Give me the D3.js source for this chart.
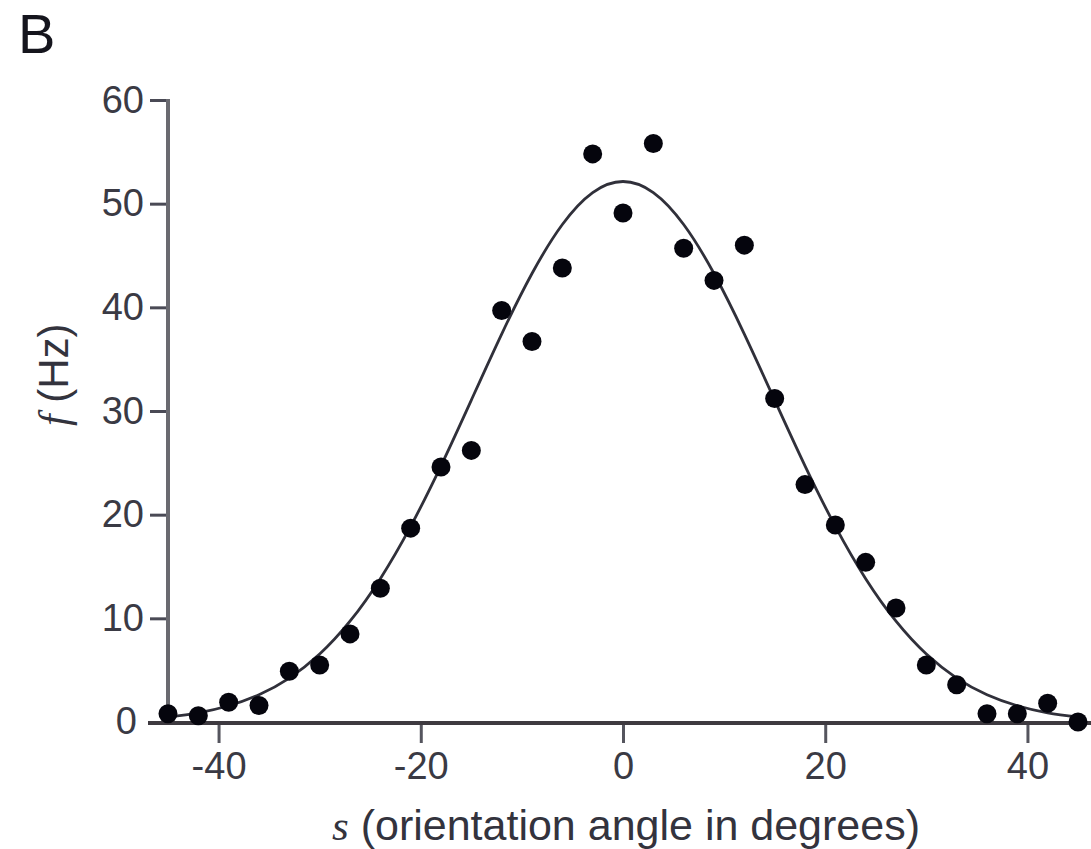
<!DOCTYPE html>
<html>
<head>
<meta charset="utf-8">
<script src="https://cdn.jsdelivr.net/npm/d3@7"></script>
<style>
  html, body { margin: 0; padding: 0; background: #fff; }
  svg { display: block; }
</style>
</head>
<body>
<script>
// orientation angles (deg) of the measured points
const angles = [-45, -42, -39, -36, -33, -30, -27, -24, -21, -18, -15, -12, -9, -6, -3,
  0, 3, 6, 9, 12, 15, 18, 21, 24, 27, 30, 33, 36, 39, 42, 45];

const rates = [0.8, 0.6, 1.9, 1.6, 4.9, 5.5, 8.5, 12.9, 18.7, 24.6, 26.2, 39.7, 36.7, 43.8, 54.8,
  49.1, 55.8, 45.7, 42.6, 46.0, 31.2, 22.9, 19.0, 15.4, 11.0, 5.5, 3.6, 0.8, 0.8, 1.8, 0.0];

// tuning curve samples (Hz) at the same angles
const fitRates = [0.49, 0.89, 1.57, 2.63, 4.24, 6.55, 9.72, 13.83, 18.87, 24.71, 31.05, 37.42, 43.26, 47.99, 51.07,
  52.14, 51.07, 47.99, 43.26, 37.42, 31.05, 24.71, 18.87, 13.83, 9.72, 6.55, 4.24, 2.63, 1.57, 0.89, 0.49];

const xTicks = [-40, -20, 0, 20, 40];
const yTicks = [10, 20, 30, 40, 50, 60];

const width = 1091;
const height = 849;
const margin = { top: 100, right: 13, bottom: 127, left: 168 };

const sans = "'Liberation Sans', Arial, Helvetica, sans-serif";
const serif = "'Liberation Serif', 'Times New Roman', serif";

const svg = d3
  .select("body")
  .append("svg")
  .attr("width", width)
  .attr("height", height);

const x = d3
  .scaleLinear()
  .domain([-45, 45])
  .range([margin.left, width - margin.right]);

const y = d3
  .scaleLinear()
  .domain([0, 60])
  .range([height - margin.bottom, margin.top]);

// plain hyphen for negatives, like the original
const plain = (d) => String(d);

// y axis
const yAxis = svg
  .append("g")
  .attr("transform", `translate(${x(-45)},0)`)
  .call(d3.axisLeft(y).tickValues(yTicks).tickFormat(plain).tickSize(18).tickSizeOuter(0).tickPadding(6));

yAxis.select(".domain").remove();
yAxis.selectAll(".tick line").attr("stroke", "#4a4a55").attr("stroke-width", 3);
yAxis
  .selectAll(".tick text")
  .attr("fill", "#3a3a44")
  .style("font-family", sans)
  .style("font-size", "38px");

svg
  .append("line")
  .attr("x1", x(-45))
  .attr("x2", x(-45))
  .attr("y1", y(60) - 1)
  .attr("y2", y(0))
  .attr("stroke", "#6a6a70")
  .attr("stroke-width", 4);

// zero label sits a little further out than the others
svg
  .append("text")
  .attr("x", x(-45) - 31)
  .attr("y", y(0))
  .attr("dy", "0.32em")
  .attr("text-anchor", "end")
  .attr("fill", "#3a3a44")
  .style("font-family", sans)
  .style("font-size", "38px")
  .text("0");

// x axis
const xAxis = svg
  .append("g")
  .attr("transform", `translate(0,${y(0) + 1})`)
  .call(d3.axisBottom(x).tickValues(xTicks).tickFormat(plain).tickSize(20).tickSizeOuter(0).tickPadding(9));

xAxis.select(".domain").remove();
xAxis.selectAll(".tick line").attr("stroke", "#55555e").attr("stroke-width", 3);
xAxis
  .selectAll(".tick text")
  .attr("fill", "#3a3a44")
  .style("font-family", sans)
  .style("font-size", "38px");

svg
  .append("line")
  .attr("x1", x(-45) - 20)
  .attr("x2", width)
  .attr("y1", y(0) + 1)
  .attr("y2", y(0) + 1)
  .attr("stroke", "#3e3a40")
  .attr("stroke-width", 4);

// fitted tuning curve
const line = d3
  .line()
  .x((d, i) => x(angles[i]))
  .y((d) => y(d))
  .curve(d3.curveNatural);

svg
  .append("path")
  .datum(fitRates)
  .attr("d", line)
  .attr("fill", "none")
  .attr("stroke", "#30303a")
  .attr("stroke-width", 2.8);

// data points
svg
  .append("g")
  .selectAll("circle")
  .data(rates)
  .join("circle")
  .attr("cx", (d, i) => x(angles[i]))
  .attr("cy", (d) => y(d))
  .attr("r", 9.5)
  .attr("fill", "#05050d");

// axis labels
const xLabel = svg
  .append("text")
  .attr("x", x(0) + 3)
  .attr("y", 840)
  .attr("text-anchor", "middle")
  .attr("fill", "#33333d")
  .style("font-family", sans)
  .style("font-size", "43px");

xLabel.append("tspan").style("font-family", serif).style("font-style", "italic").text("s");
xLabel.append("tspan").text(" (orientation angle in degrees)");

const yLabel = svg
  .append("text")
  .attr("transform", `translate(68,${y(33.5)}) rotate(-90)`)
  .attr("text-anchor", "middle")
  .attr("fill", "#33333d")
  .style("font-family", sans)
  .style("font-size", "42px");

yLabel.append("tspan").style("font-family", serif).style("font-style", "italic").text("f");
yLabel.append("tspan").text(" (Hz)");

// panel letter
svg
  .append("text")
  .attr("x", 18)
  .attr("y", 53)
  .attr("fill", "#15151d")
  .style("font-family", sans)
  .style("font-size", "56px")
  .text("B");
</script>
</body>
</html>
